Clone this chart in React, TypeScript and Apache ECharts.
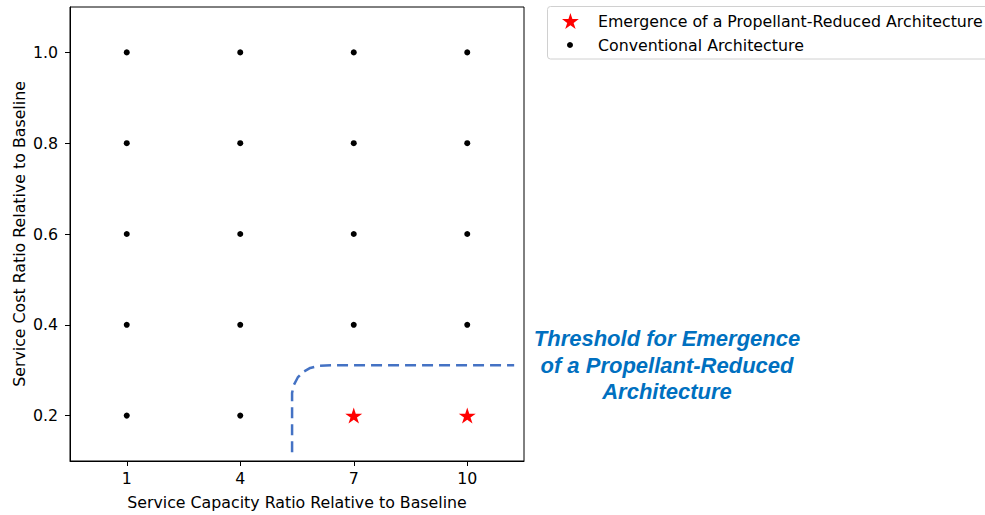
import React, { useEffect, useRef } from "react";
import * as echarts from "echarts";

// Tick values
const capacityTicks = [1, 4, 7, 10];
const costTicks = [0.2, 0.4, 0.6, 0.8, 1.0];

// Conventional architecture points [capacity, cost]
const conventionalPoints: [number, number][] = [
  [1, 0.2], [1, 0.4], [1, 0.6], [1, 0.8], [1, 1.0],
  [4, 0.2], [4, 0.4], [4, 0.6], [4, 0.8], [4, 1.0],
  [7, 0.4], [7, 0.6], [7, 0.8], [7, 1.0],
  [10, 0.4], [10, 0.6], [10, 0.8], [10, 1.0],
];

// Emergence of a propellant-reduced architecture points
const emergencePoints: [number, number][] = [
  [7, 0.2],
  [10, 0.2],
];

// Threshold line
const thresholdPoints: [number, number][] = [
  [5.37, 0.119],
  [5.37, 0.25],
  [5.42, 0.268],
  [5.52, 0.284],
  [5.66, 0.296],
  [5.85, 0.305],
  [6.1, 0.31],
  [6.4, 0.311],
  [11.24, 0.311],
];

const annotationLines = [
  "Threshold for Emergence",
  "of a Propellant-Reduced",
  "Architecture",
];

const STAR =
  "path://M50 0L61.2 34.6L97.55 34.55L68.1 55.9L79.4 90.45L50 69.05L20.6 90.45L31.9 55.9L2.45 34.55L38.8 34.6Z";

const FONT = "DejaVu Sans";
const FS = 15.8;

export default function App() {
  const ref = useRef<HTMLDivElement>(null);
  useEffect(() => {
    if (!ref.current) return;
    const chart = echarts.init(ref.current, null, { renderer: "svg" });
    chart.setOption({
      animation: false,
      backgroundColor: "#fff",
      grid: {
        left: 70,
        top: 7,
        width: 454,
        height: 455,
        containLabel: false,
        show: true,
        borderColor: "#000",
        borderWidth: 1,
        backgroundColor: "transparent",
      },
      xAxis: {
        type: "value",
        min: -0.5,
        max: 11.5,
        name: "Service Capacity Ratio Relative to Baseline",
        nameLocation: "middle",
        nameGap: 33,
        nameTextStyle: { fontFamily: FONT, fontSize: FS, color: "#000" },
        axisLine: { show: true, onZero: false, lineStyle: { color: "#000", width: 1 } },
        axisTick: {
          show: true,
          length: 5,
          inside: false,
          customValues: capacityTicks,
          lineStyle: { color: "#000", width: 1 },
        },
        axisLabel: {
          customValues: capacityTicks,
          margin: 9,
          fontFamily: FONT,
          fontSize: FS,
          color: "#000",
        },
        splitLine: { show: false },
      },
      yAxis: {
        type: "value",
        min: 0.1,
        max: 1.1,
        name: "Service Cost Ratio Relative to Baseline",
        nameLocation: "middle",
        nameGap: 43,
        nameTextStyle: { fontFamily: FONT, fontSize: FS, color: "#000" },
        axisLine: { show: true, onZero: false, lineStyle: { color: "#000", width: 1 } },
        axisTick: {
          show: true,
          length: 5,
          inside: false,
          customValues: costTicks,
          lineStyle: { color: "#000", width: 1 },
        },
        axisLabel: {
          customValues: costTicks,
          margin: 12,
          fontFamily: FONT,
          fontSize: FS,
          color: "#000",
          formatter: (v: number) => v.toFixed(1),
        },
        splitLine: { show: false },
      },
      legend: [
        {
          data: ["Emergence of a Propellant-Reduced Architecture"],
          left: 562,
          top: 13,
          padding: 0,
          itemWidth: 17,
          itemHeight: 16,
          textStyle: { fontFamily: FONT, fontSize: FS, color: "#000", padding: [0, 0, 0, 14] },
        },
        {
          data: ["Conventional Architecture"],
          left: 567,
          top: 37,
          padding: 0,
          itemWidth: 6,
          itemHeight: 6,
          textStyle: { fontFamily: FONT, fontSize: FS, color: "#000", padding: [0, 0, 0, 20] },
        },
      ],
      graphic: [
        {
          type: "rect",
          shape: { x: 547.5, y: 6.5, width: 450, height: 52.5, r: 3 },
          style: { fill: "none", stroke: "#d0d0d0", lineWidth: 1 },
          z: 0,
        },
        ...annotationLines.map((t, i) => ({
          type: "text",
          x: 667,
          y: 338.5 + i * 26.5,
          style: {
            text: t,
            fill: "#0070C0",
            font: "italic bold 22px 'Liberation Sans', Arial, sans-serif",
            align: "center",
            verticalAlign: "middle",
          },
        })),
      ],
      series: [
        {
          name: "Threshold",
          type: "line",
          data: thresholdPoints,
          showSymbol: false,
          symbol: "none",
          lineStyle: { color: "#4472C4", width: 2.5, type: [11, 6] },
          z: 1,
        },
        {
          name: "Emergence of a Propellant-Reduced Architecture",
          type: "scatter",
          data: emergencePoints,
          symbol: STAR,
          symbolSize: [17, 16],
          itemStyle: { color: "#ff0000", opacity: 1 },
          z: 3,
        },
        {
          name: "Conventional Architecture",
          type: "scatter",
          data: conventionalPoints,
          symbol: "circle",
          symbolSize: 6,
          itemStyle: { color: "#000", opacity: 1 },
          z: 3,
        },
      ],
    });
    return () => chart.dispose();
  }, []);
  return (
    <div
      ref={ref}
      style={{ position: "fixed", left: 0, top: 0, width: 985, height: 515, background: "#fff" }}
    />
  );
}
